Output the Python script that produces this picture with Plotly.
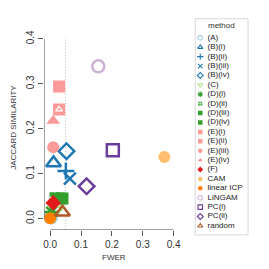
import plotly.graph_objects as go

methods = ["(A)", "(B)(i)", "(B)(ii)", "(B)(iii)", "(B)(iv)", "(C)", "(D)(i)", "(D)(ii)",
           "(D)(iii)", "(D)(iv)", "(E)(i)", "(E)(ii)", "(E)(iii)", "(E)(iv)", "(F)", "CAM",
           "linear ICP", "LiNGAM", "PC(i)", "PC(ii)", "random"]
fwer = [0.002, 0.011, 0.051, 0.064, 0.053, 0.020, 0.004, 0.015,
        0.040, 0.028, 0.029, 0.029, 0.010, 0.010, 0.010, 0.370,
        0.000, 0.156, 0.203, 0.118, 0.040]
jaccard = [0.003, 0.124, 0.106, 0.089, 0.150, 0.020, 0.015, 0.047,
           0.045, 0.045, 0.294, 0.243, 0.159, 0.218, 0.035, 0.137,
           0.001, 0.339, 0.152, 0.072, 0.014]
colors = ["#A6CEE3", "#1F78B4", "#1F78B4", "#1F78B4", "#1F78B4", "#B2DF8A", "#33A02C", "#33A02C",
          "#33A02C", "#33A02C", "#FB9A99", "#FB9A99", "#FB9A99", "#FB9A99", "#E31A1C", "#FDBF6F",
          "#FF7F00", "#CAB2D6", "#6A3D9A", "#6A3D9A", "#B15928"]
symbols = ["circle-open", "triangle-up-open", "cross-thin-open", "x-thin-open", "diamond-open",
           "triangle-down-open", "asterisk-open", "square-cross", "square", "square", "square",
           "square", "circle", "triangle-up", "diamond", "circle", "circle", "circle-open",
           "square-open", "diamond-open", "triangle-up-open"]
x_ticks = [0.0, 0.1, 0.2, 0.3, 0.4]
y_ticks = [0.0, 0.1, 0.2, 0.3, 0.4]

W = H = 269
FONT = "Liberation Sans, Arial"
def px_x(p): return p / W
def px_y(p): return 1 - p / H

fig = go.Figure()

# main points
for i, m in enumerate(methods):
    open_sym = symbols[i].endswith("open")
    lw = 2.5 if open_sym else (1.5 if symbols[i] == "square-cross" else 0)
    lc = colors[i] if open_sym else "white"
    fig.add_trace(go.Scatter(
        x=[fwer[i]], y=[jaccard[i]], mode="markers", name=m, showlegend=False,
        marker=dict(symbol=symbols[i], color=colors[i],
                    size=12 if symbols[i] != "triangle-up-open" else 13,
                    line=dict(color=lc, width=lw)),
        xaxis="x", yaxis="y"))
# (E)(ii) inner triangle overlay
k = methods.index("(E)(ii)")
fig.add_trace(go.Scatter(x=[fwer[k]], y=[jaccard[k]], mode="markers", showlegend=False,
                         marker=dict(symbol="triangle-up-open", color="white", size=6,
                                     line=dict(color="white", width=1.2))))

# manual legend (compact, like R's legend)
idx = list(range(len(methods)))
for i, m in enumerate(methods):
    open_sym = symbols[i].endswith("open")
    fig.add_trace(go.Scatter(
        x=[5], y=[i], mode="markers", showlegend=False, xaxis="x2", yaxis="y2",
        marker=dict(symbol=symbols[i], color=colors[i], size=4.5,
                    line=dict(color=colors[i] if open_sym else "white",
                              width=1.1 if open_sym else (0.6 if symbols[i] == "square-cross" else 0)))))
fig.add_trace(go.Scatter(
    x=[12.3] * len(methods), y=idx, text=methods, mode="text", textposition="middle right",
    textfont=dict(size=8, color="#222", family=FONT), showlegend=False,
    xaxis="x2", yaxis="y2"))

shapes = [
    dict(type="line", xref="x", yref="y", x0=0.05, x1=0.05, y0=-0.0247, y1=0.4037,
         line=dict(color="#b8b8b8", width=1, dash="1px,2px"), layer="below"),
    dict(type="line", xref="x", yref="y", x0=0, x1=0.4, y0=-0.0247, y1=-0.0247,
         line=dict(color="#555", width=1)),
    dict(type="line", xref="x", yref="y", x0=-0.0194, x1=-0.0194, y0=0, y1=0.4,
         line=dict(color="#555", width=1)),
    dict(type="rect", xref="paper", yref="paper", x0=px_x(195), x1=px_x(248),
         y0=px_y(234), y1=px_y(12), line=dict(color="#d8d8d8", width=1)),
]

annotations = [
    dict(text="FWER", x=px_x(113), y=px_y(257), xref="paper", yref="paper", showarrow=False,
         xanchor="center", yanchor="middle", font=dict(size=8, color="#333", family=FONT)),
    dict(text="JACCARD SIMILARITY", x=px_x(13), y=px_y(123), xref="paper", yref="paper",
         showarrow=False, textangle=-90, xanchor="center", yanchor="middle",
         font=dict(size=8, color="#333", family=FONT)),
    dict(text="method", x=px_x(221.5), y=px_y(18.5), xref="paper", yref="paper", showarrow=False,
         xanchor="center", yanchor="middle", font=dict(size=8, color="#333", family=FONT)),
]

fig.update_layout(
    width=W, height=H, margin=dict(l=0, r=0, t=0, b=0),
    plot_bgcolor="white", paper_bgcolor="white", showlegend=False,
    shapes=shapes, annotations=annotations,
    xaxis=dict(domain=[px_x(43.3), px_x(190)], range=[-0.0194, 0.4539], tickvals=x_ticks,
               ticktext=[f"{v:.1f}" for v in x_ticks], ticks="outside", ticklen=5,
               tickcolor="#555", showgrid=False, zeroline=False, showline=False,
               tickfont=dict(size=10, color="#333", family=FONT), anchor="y"),
    yaxis=dict(domain=[px_y(228.7), px_y(31)], range=[-0.0247, 0.4037], tickvals=y_ticks,
               ticktext=[f"{v:.1f}" for v in y_ticks], ticks="outside", ticklen=5,
               tickcolor="#555", showgrid=False, zeroline=False, showline=False,
               tickangle=-90, tickfont=dict(size=10, color="#333", family=FONT), anchor="x"),
    xaxis2=dict(domain=[px_x(195), px_x(248)], range=[0, 53], visible=False, anchor="y2",
                fixedrange=True),
    yaxis2=dict(domain=[px_y(234), px_y(12)], range=[20.96, -2.04], visible=False,
                anchor="x2", fixedrange=True),
)

fig.write_html("out.html", config={"displayModeBar": False},
               post_script="document.body.style.margin='0';document.body.style.overflow='hidden';")
